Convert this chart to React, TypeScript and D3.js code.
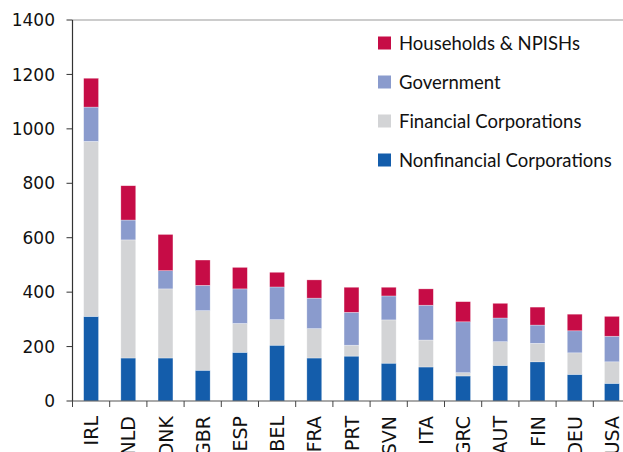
import React from "react";
import * as d3 from "d3";

const categories = ["IRL","NLD","DNK","GBR","ESP","BEL","FRA","PRT","SVN","ITA","GRC","AUT","FIN","DEU","USA"];
const nonfinancial = [311,158,158,113,179,205,158,165,139,125,92,131,144,98,65];
const financial = [643,434,254,219,106,94,108,40,159,99,12,87,68,79,79];
const government = [126,73,67,93,127,120,112,121,88,128,187,87,67,81,94];
const households = [106,126,133,93,79,54,67,92,32,60,74,54,66,61,73];
const seriesNames = ["Nonfinancial Corporations","Financial Corporations","Government","Households & NPISHs"];
const seriesColors = ["#145DAB","#D3D4D6","#8A9BCD","#C60C46"];
const yTicks = [0,200,400,600,800,1000,1200,1400];

const W = 623, H = 452;
const left = 72.5, top = 20, bottom = 401;
const FONT = "'DejaVu Sans', sans-serif";
const LEGEND_FONT = "Lato, 'DejaVu Sans', sans-serif";

export default function App() {
  const x = d3.scaleBand<string>().domain(categories).range([left, left + 37.2 * categories.length]).paddingInner(0.6).paddingOuter(0.3);
  const y = d3.scaleLinear().domain([0, 1400]).range([bottom, top]);
  const rows = categories.map((c, i) => ({ cat: c, s0: nonfinancial[i], s1: financial[i], s2: government[i], s3: households[i] }));
  const stack = d3.stack<any>().keys(["s0","s1","s2","s3"])(rows);
  const step = x.step();
  const boundaries = d3.range(categories.length + 1).map(i => left + i * step);
  const legendOrder = [3,2,1,0];
  return (
    <svg width={W} height={H} style={{ position: "absolute", left: 0, top: 0, background: "#fff" }} fontFamily={FONT}>
      <line x1={left} x2={W} y1={top} y2={top} stroke="#999" strokeWidth={1} />
      {stack.map((layer, si) => (
        <g key={si} fill={seriesColors[si]}>
          {layer.map((d, i) => (
            <rect key={i} x={x(categories[i])} width={x.bandwidth()} y={y(d[1])} height={y(d[0]) - y(d[1])} stroke="#fff" strokeOpacity={0.5} strokeWidth={0.6} />
          ))}
        </g>
      ))}
      <line x1={left} x2={left} y1={top} y2={bottom} stroke="#333" strokeWidth={1.2} />
      <line x1={left} x2={W} y1={bottom} y2={bottom} stroke="#555" strokeWidth={1.2} />
      {yTicks.map(t => (
        <g key={t}>
          <line x1={left - 6} x2={left} y1={y(t)} y2={y(t)} stroke="#333" />
          <text x={55} y={y(t)} dy="0.36em" textAnchor="end" fontSize={17} fill="#111">{t}</text>
        </g>
      ))}
      {boundaries.map((b, i) => (
        <line key={i} x1={b} x2={b} y1={bottom} y2={bottom + 6} stroke="#444" />
      ))}
      {categories.map(c => {
        const cx = (x(c) as number) + x.bandwidth() / 2;
        return (
          <text key={c} transform={`translate(${cx + 7},${416}) rotate(-90)`} textAnchor="end" fontSize={19} fill="#111">{c}</text>
        );
      })}
      {legendOrder.map((si, k) => (
        <g key={si} transform={`translate(378,${43 + k * 39})`}>
          <rect x={0} y={-6.5} width={13} height={13} fill={seriesColors[si]} />
          <text x={21} y={0} dy="0.36em" fontSize={18.5} fontFamily={LEGEND_FONT} fill="#111">{seriesNames[si]}</text>
        </g>
      ))}
    </svg>
  );
}
